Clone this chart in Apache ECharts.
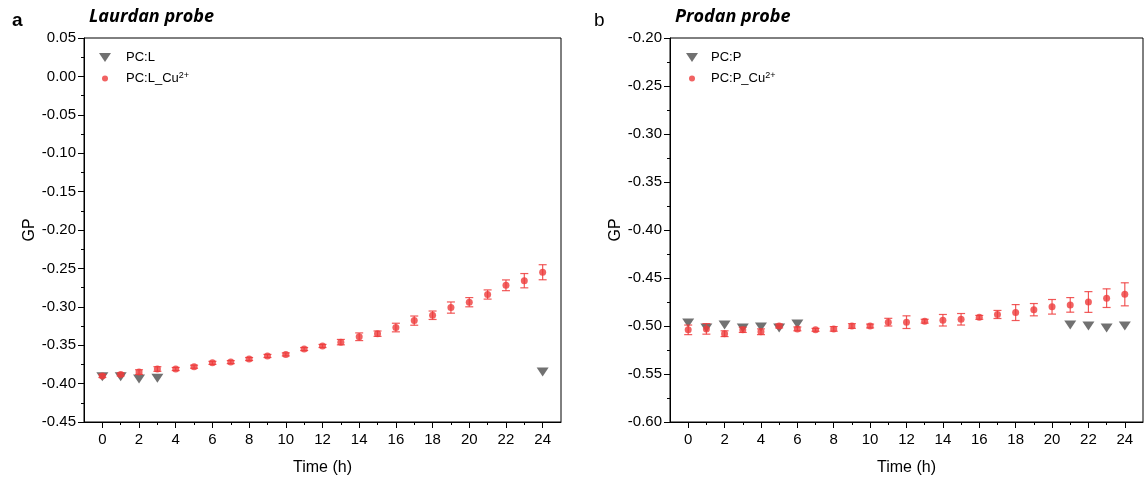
<!DOCTYPE html>
<html>
<head>
<meta charset="utf-8">
<script src="https://cdn.jsdelivr.net/npm/echarts@6/dist/echarts.min.js"></script>
<style>html,body{margin:0;padding:0;background:#fff}#c{width:1145px;height:484px}</style>
</head>
<body>
<div id="c"></div>
<script>
// ---- data ----
const hours = [0,1,2,3,4,5,6,7,8,9,10,11,12,13,14,15,16,17,18,19,20,21,22,23,24];
const xMajorTicks = [0,2,4,6,8,10,12,14,16,18,20,22,24];
const xMinorTicks = [1,3,5,7,9,11,13,15,17,19,21,23];

// Panel a: Laurdan probe
const pclHours = [0,1,2,3,24];
const pclGP = [-0.391,-0.391,-0.394,-0.393,-0.385];
const pclCuGP = [-0.390,-0.388,-0.385,-0.381,-0.381,-0.378,-0.373,-0.372,-0.368,-0.364,-0.362,-0.355,-0.351,-0.346,-0.339,-0.335,-0.327,-0.318,-0.311,-0.301,-0.294,-0.284,-0.272,-0.266,-0.255];
const pclCuErr = [0.002,0.002,0.003,0.003,0.002,0.002,0.002,0.002,0.002,0.002,0.002,0.002,0.002,0.0035,0.005,0.0035,0.0056,0.006,0.0055,0.0073,0.006,0.006,0.007,0.0093,0.0098];

// Panel b: Prodan probe
const pcpHours = [0,1,2,3,4,5,6,21,22,23,24];
const pcpGP = [-0.497,-0.502,-0.499,-0.502,-0.501,-0.502,-0.498,-0.499,-0.500,-0.502,-0.500];
const pcpCuGP = [-0.504,-0.503,-0.508,-0.504,-0.506,-0.500,-0.503,-0.504,-0.503,-0.500,-0.500,-0.496,-0.496,-0.495,-0.494,-0.493,-0.491,-0.488,-0.486,-0.483,-0.480,-0.478,-0.475,-0.471,-0.467];
const pcpCuErr = [0.005,0.0055,0.003,0.0027,0.003,0.002,0.002,0.0015,0.0024,0.0024,0.002,0.004,0.0066,0.002,0.006,0.006,0.002,0.0042,0.0083,0.0064,0.0076,0.0076,0.0108,0.0097,0.012];

const names = {a1:'PC:L', a2:'PC:L_Cu2+', b1:'PC:P', b2:'PC:P_Cu2+'};

// ---- chart ----
const FONT = 'Liberation Sans, Arial, sans-serif';
const RED = '#EE3B3B';
const GRAY = '#4D4D4D';
const zip = (xs, ys) => xs.map((x, i) => [x, ys[i]]);
const zip3 = (xs, ys, es) => xs.map((x, i) => [x, ys[i], es[i]]);

function xAxes(gi) {
  return [{
    type: 'value', gridIndex: gi, position: 'bottom', min: -1, max: 25,
    name: 'Time (h)', nameLocation: 'middle', nameGap: 38,
    nameTextStyle: {fontFamily: FONT, fontSize: 16, color: '#000'},
    axisLine: {onZero: false, lineStyle: {color: '#000', width: 1}},
    axisTick: {show: true, length: 6, customValues: xMajorTicks, lineStyle: {color: '#000'}},
    axisLabel: {customValues: xMajorTicks, fontFamily: FONT, fontSize: 15, color: '#000', margin: 10},
    splitLine: {show: false}
  }, {
    type: 'value', gridIndex: gi, position: 'bottom', min: -1, max: 25,
    axisLine: {show: false, onZero: false},
    axisTick: {show: true, length: 3, customValues: xMinorTicks, lineStyle: {color: '#000'}},
    axisLabel: {show: false},
    splitLine: {show: false}
  }];
}
function yAxis(gi, min, max) {
  return {
    type: 'value', gridIndex: gi, min: min, max: max, interval: 0.05,
    name: 'GP', nameLocation: 'middle', nameGap: 44,
    nameTextStyle: {fontFamily: FONT, fontSize: 16, color: '#000'},
    axisLine: {show: true, onZero: false, lineStyle: {color: '#000', width: 1}},
    axisTick: {show: true, length: 6, lineStyle: {color: '#000'}},
    minorTick: {show: true, splitNumber: 2, length: 3, lineStyle: {color: '#000'}},
    axisLabel: {fontFamily: FONT, fontSize: 15, color: '#000', margin: 8,
      formatter: v => (Math.abs(v) < 1e-9 ? 0 : v).toFixed(2)},
    splitLine: {show: false}
  };
}
function errRender(params, api) {
  const x = api.value(0), y = api.value(1), e = api.value(2);
  const top = api.coord([x, y + e]);
  const bot = api.coord([x, y - e]);
  const hw = 4;
  const st = {stroke: 'rgba(238,59,59,0.85)', lineWidth: 1.2, fill: null};
  return {type: 'group', children: [
    {type: 'line', shape: {x1: top[0], y1: top[1], x2: bot[0], y2: bot[1]}, style: st},
    {type: 'line', shape: {x1: top[0]-hw, y1: top[1], x2: top[0]+hw, y2: top[1]}, style: st},
    {type: 'line', shape: {x1: bot[0]-hw, y1: bot[1], x2: bot[0]+hw, y2: bot[1]}, style: st}
  ]};
}
function panelSeries(xi, yi, n1, hs1, v1, n2, v2, e2) {
  return [
    {type: 'scatter', name: n1, xAxisIndex: xi, yAxisIndex: yi, data: zip(hs1, v1),
     symbol: 'triangle', symbolRotate: 180, symbolSize: [12, 9], itemStyle: {color: GRAY}, z: 2},
    {type: 'custom', xAxisIndex: xi, yAxisIndex: yi, data: zip3(hours, v2, e2),
     encode: {x: 0, y: 1}, renderItem: errRender, z: 3, silent: true},
    {type: 'scatter', name: n2, xAxisIndex: xi, yAxisIndex: yi, data: zip(hours, v2),
     symbol: 'circle', symbolSize: 7, itemStyle: {color: RED}, z: 4}
  ];
}
function legText(padLeft) {
  return {fontFamily: FONT, fontSize: 13, color: '#000', padding: [0,0,0,padLeft],
    rich: {n: {fontFamily: FONT, fontSize: 13, color: '#000'},
           s: {fontFamily: FONT, fontSize: 9, color: '#000', verticalAlign: 'top', padding: [0,0,6,0]}}};
}
const legFmt = name => name.endsWith('Cu2+') ? '{n|' + name.slice(0, -2) + '}{s|2+}' : name;
function legend(left, top, name, icon, w, h, pad) {
  return {left: left, top: top, orient: 'vertical', itemWidth: w, itemHeight: h, padding: 0,
    data: [{name: name, icon: icon}], textStyle: legText(pad), formatter: legFmt, selectedMode: false};
}
const triIcon = 'path://M0,0 L12,0 L6,9 Z';

const option = {
  animation: false,
  backgroundColor: '#fff',
  title: [
    {text: 'a', left: 12, top: 11, padding: 0, textStyle: {fontFamily: FONT, fontWeight: 'bold', fontSize: 19, color: '#000'}},
    {text: 'Laurdan probe', left: 89, top: 8, padding: 0, textStyle: {fontFamily: 'Open Sans', fontWeight: 'bold', fontStyle: 'italic', fontSize: 18, color: '#000'}},
    {text: 'b', left: 594, top: 11, padding: 0, textStyle: {fontFamily: FONT, fontWeight: 'normal', fontSize: 19, color: '#000'}},
    {text: 'Prodan probe', left: 675, top: 8, padding: 0, textStyle: {fontFamily: 'Open Sans', fontWeight: 'bold', fontStyle: 'italic', fontSize: 18, color: '#000'}}
  ],
  legend: [
    legend(99, 51, names.a1, triIcon, 12, 9, 10),
    legend(102, 71, names.a2, 'circle', 6, 6, 13),
    legend(686, 51, names.b1, triIcon, 12, 9, 8),
    legend(689, 71, names.b2, 'circle', 6, 6, 11)
  ],
  grid: [
    {left: 84, top: 38, width: 477, height: 384, show: true, borderColor: '#000', borderWidth: 1, backgroundColor: 'transparent'},
    {left: 670, top: 38, width: 473, height: 384, show: true, borderColor: '#000', borderWidth: 1, backgroundColor: 'transparent'}
  ],
  xAxis: [...xAxes(0), ...xAxes(1)],
  yAxis: [yAxis(0, -0.45, 0.05), yAxis(1, -0.60, -0.20)],
  series: [
    ...panelSeries(0, 0, names.a1, pclHours, pclGP, names.a2, pclCuGP, pclCuErr),
    ...panelSeries(2, 1, names.b1, pcpHours, pcpGP, names.b2, pcpCuGP, pcpCuErr)
  ]
};
const chart = echarts.init(document.getElementById('c'), null, {renderer: 'canvas'});
chart.setOption(option);
</script>
</body>
</html>
